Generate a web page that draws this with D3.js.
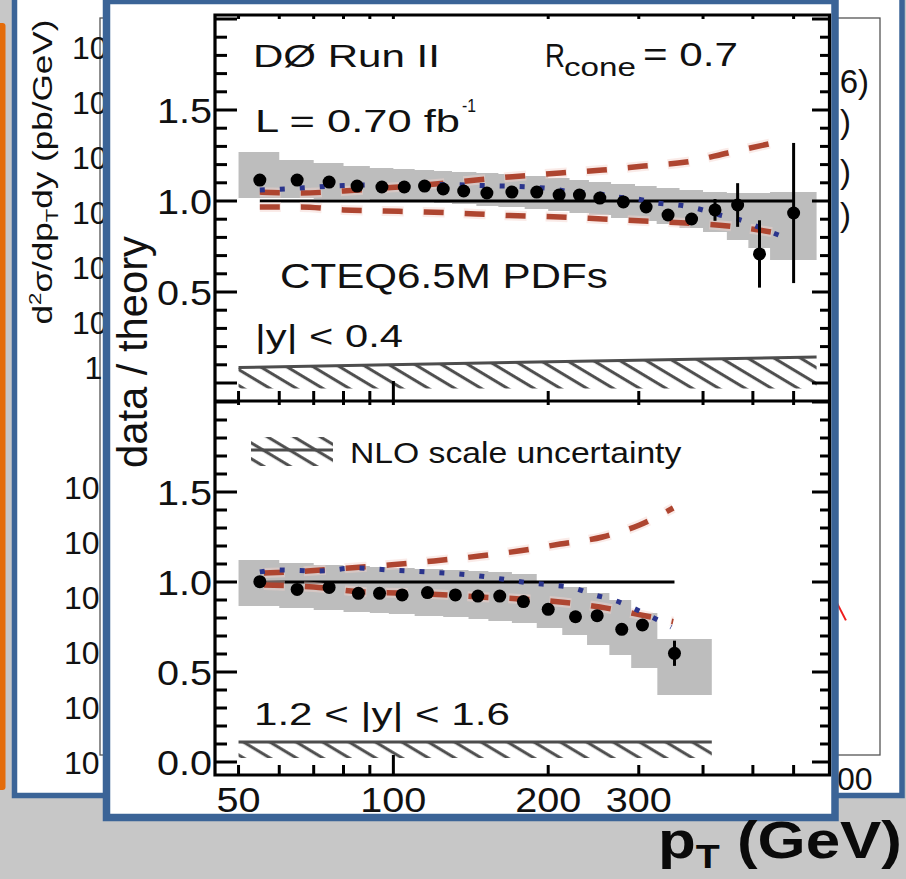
<!DOCTYPE html>
<html><head><meta charset="utf-8">
<script src="https://cdn.jsdelivr.net/npm/d3@7"></script>
<style>html,body{margin:0;padding:0;overflow:hidden;background:#c7c7c7}</style>
</head><body>
<svg id="c" width="906" height="879"></svg>
<script>
const FONT = "'Liberation Sans', Arial, Helvetica, sans-serif";

// ---------------- front chart data (data / theory) ----------------
const xTickVals = [50, 60, 70, 80, 90, 100, 200, 300, 400, 500, 600];
const xTickLabels = [50, 100, 200, 300];
const yTickLabelsUpper = ["0.5", "1.0", "1.5"];
const yTickLabelsLower = ["0.0", "0.5", "1.0", "1.5"];

// |y| < 0.4
const upPt    = [55, 65, 75, 85, 95, 105, 115, 125, 137, 152, 170, 190, 210, 230, 252, 280, 310, 342, 380, 422, 467, 515, 600];
const upRatio = [1.115, 1.115, 1.104, 1.082, 1.077, 1.077, 1.082, 1.066, 1.055, 1.044, 1.049, 1.049, 1.033, 1.033, 1.016, 0.995, 0.967, 0.923, 0.901, 0.951, 0.978, 0.709, 0.934];
const upErr   = [0.01, 0.01, 0.01, 0.01, 0.01, 0.01, 0.01, 0.01, 0.01, 0.01, 0.01, 0.01, 0.01, 0.01, 0.01, 0.015, 0.015, 0.02, 0.025, 0.06, 0.12, 0.185, 0.385];
const upBandEdges = [50, 60, 70, 80, 90, 100, 110, 120, 130, 145, 160, 180, 200, 220, 240, 265, 295, 325, 360, 400, 445, 490, 540, 665];
const upBandHi = [1.269, 1.225, 1.209, 1.192, 1.181, 1.176, 1.17, 1.165, 1.159, 1.154, 1.148, 1.137, 1.126, 1.115, 1.104, 1.093, 1.082, 1.071, 1.06, 1.049, 1.044, 1.044, 1.049];
const upBandLo = [1.016, 1.016, 1.011, 1.011, 1.005, 1.0, 0.995, 0.989, 0.984, 0.973, 0.967, 0.956, 0.945, 0.934, 0.923, 0.907, 0.89, 0.874, 0.852, 0.83, 0.786, 0.742, 0.676];
const upPdfPt = [55, 66, 80, 96, 115, 145, 168, 211, 255, 307, 371, 447, 570];
const upPdfHi = [1.049, 1.044, 1.055, 1.071, 1.088, 1.115, 1.132, 1.154, 1.17, 1.192, 1.214, 1.264, 1.33];
const upPdfLo = [0.967, 0.967, 0.951, 0.945, 0.94, 0.929, 0.92, 0.912, 0.901, 0.89, 0.879, 0.863, 0.82];
const upAltPt = [55, 65, 80, 100, 125, 150, 185, 204, 224, 246, 271, 298, 325, 358, 393, 431, 473, 512, 561];
const upAlt   = [1.06, 1.07, 1.085, 1.09, 1.09, 1.085, 1.077, 1.066, 1.049, 1.044, 1.022, 1.011, 0.989, 0.978, 0.956, 0.923, 0.896, 0.857, 0.813];
const upScalePt = [50, 665];
const upScaleTop = [0.085, 0.143];
const upScaleBase = -0.03;

// 1.2 < |y| < 1.6
const loPt    = [55, 65, 75, 85.5, 94, 104, 116.5, 132, 146, 161, 179, 200, 226, 249, 278, 305, 352];
const loRatio = [1.002, 0.959, 0.97, 0.937, 0.937, 0.928, 0.941, 0.928, 0.922, 0.922, 0.891, 0.848, 0.807, 0.813, 0.737, 0.761, 0.604];
const loErr   = [0.01, 0.01, 0.01, 0.01, 0.01, 0.01, 0.01, 0.01, 0.01, 0.01, 0.01, 0.01, 0.01, 0.01, 0.015, 0.015, 0.07];
const loBandEdges = [50, 60, 70, 80, 90, 98, 110, 125, 140, 153, 170, 190, 213, 238, 263, 290, 326, 416];
const loBandHi = [1.122, 1.106, 1.094, 1.089, 1.083, 1.078, 1.072, 1.067, 1.061, 1.056, 1.044, 1.005, 0.972, 0.939, 0.9, 0.828, 0.683];
const loBandLo = [0.867, 0.856, 0.844, 0.833, 0.828, 0.822, 0.811, 0.806, 0.794, 0.783, 0.772, 0.744, 0.706, 0.65, 0.594, 0.522, 0.372];
const loPdfHiPt = [56, 68, 82, 98, 120, 147, 175, 211, 255, 301, 350];
const loPdfHi   = [1.05, 1.061, 1.078, 1.094, 1.117, 1.144, 1.172, 1.211, 1.25, 1.317, 1.411];
const loPdfLoPt = [56, 70, 88, 105, 128, 147, 176, 211, 252, 310, 350];
const loPdfLo   = [0.983, 0.972, 0.944, 0.939, 0.928, 0.917, 0.906, 0.889, 0.861, 0.811, 0.78];
const loAltPt = [55, 60, 72, 84, 98, 116, 141, 168, 185, 204, 224, 246, 268, 292, 347];
const loAlt   = [1.056, 1.067, 1.061, 1.078, 1.067, 1.056, 1.039, 1.011, 0.994, 0.983, 0.967, 0.928, 0.9, 0.856, 0.75];
const loScalePt = [50, 416];
const loScaleTop = [0.111, 0.111];
const loScaleBase = 0.022;

// ---------------- back (covered) chart data ----------------
const backExps = [6, 5, 4, 3, 2, 1, 0, -2, -3, -4, -5, -6, -7];
const backXLabels = [1000];
const backCurveA = [[711, 3.55e-3], [1060, 2.5e-5]];
const backCurveB = [[711, 3.0e-4], [928, 1.35e-5]];
const backLegendTails = ["6)", ")", ")", ")"];

// ---------------- drawing ----------------
const svg = d3.select("#c");
const defs = svg.append("defs");
function hatch(id, off) {
  const p = defs.append("pattern").attr("id", id).attr("patternUnits", "userSpaceOnUse")
    .attr("width", 20).attr("height", 13.6).attr("patternTransform", "rotate(31)");
  p.append("rect").attr("x", 0).attr("y", off).attr("width", 20).attr("height", 3).attr("fill", "#4d4d4d");
}
hatch("hatchU", 2); hatch("hatchL", 6); hatch("hatchK", 4);

function fit(sel, target, ax) {
  const w = sel.node().getBBox().width;
  const s = target / w;
  sel.attr("transform", `translate(${ax},0) scale(${s},1) translate(${-ax},0)`);
}

// slide background
svg.append("rect").attr("width", 906).attr("height", 879).attr("fill", "#c7c7c7");
svg.append("rect").attr("x", -3).attr("y", 23).attr("width", 8.5).attr("height", 767).attr("rx", 3).attr("fill", "#e46c0a");

// back panel
svg.append("rect").attr("x", 14.5).attr("y", -10).attr("width", 887.5).attr("height", 805.5)
  .attr("fill", "#fff").attr("stroke", "#3b6497").attr("stroke-width", 5.5);
const backY = d3.scaleLog().domain([10 ** -7.05, 10 ** 6.35]).range([755, 18]);
const backX = d3.scaleLog().domain([30, 1000]).range([300, 837]);
svg.append("rect").attr("x", 100).attr("y", backY.range()[1]).attr("width", 780).attr("height", backY.range()[0] - backY.range()[1])
  .attr("fill", "none").attr("stroke", "#555").attr("stroke-width", 1.3);
backExps.forEach(n => {
  const ty = backY(10 ** n);
  if (n === 0) {
    svg.append("text").attr("x", 84.5).attr("y", ty + 11.5).attr("font-family", FONT).attr("font-size", 32).attr("fill", "#111").text("1");
  } else {
    const t = svg.append("text").attr("x", n > 0 ? 72 : 64).attr("y", ty + 21.5).attr("font-family", FONT).attr("font-size", 32).attr("fill", "#111");
    t.append("tspan").text("10");
    t.append("tspan").attr("font-size", 20).attr("dx", 8).attr("dy", -14).text(String(n));
  }
});
const bt = svg.append("g").attr("transform", "translate(52,172) rotate(-90)")
  .append("text").attr("x", 0).attr("y", 0).attr("text-anchor", "middle").attr("font-family", FONT).attr("font-size", 27).attr("fill", "#111");
bt.append("tspan").text("d");
bt.append("tspan").attr("font-size", 17).attr("dy", -11).text("2");
bt.append("tspan").attr("dy", 11).text("σ/dp");
bt.append("tspan").attr("font-size", 17).attr("dy", 6).text("T");
bt.append("tspan").attr("dy", -6).text("dy (pb/GeV)");
fit(bt, 305, 0);
const backLine = d3.line().x(d => backX(d[0])).y(d => backY(d[1]));
[backCurveA, backCurveB].forEach(c => svg.append("path").attr("d", backLine(c)).attr("fill", "none").attr("stroke", "#ee1c1c").attr("stroke-width", 2));
const legBase = [93, 133, 183, 226], legEnd = [869, 851, 851, 851];
backLegendTails.forEach((s, i) => svg.append("text").attr("x", legEnd[i]).attr("y", legBase[i]).attr("text-anchor", "end")
  .attr("font-family", FONT).attr("font-size", 33).attr("fill", "#111").text(s));
backXLabels.forEach(v => svg.append("text").attr("x", backX(v)).attr("y", 790).attr("text-anchor", "middle")
  .attr("font-family", FONT).attr("font-size", 32).attr("fill", "#111").text(v));

// front panel
svg.append("rect").attr("x", 106.5).attr("y", 0.5).attr("width", 728.5).attr("height", 817)
  .attr("fill", "#fff").attr("stroke", "#3b6497").attr("stroke-width", 7.5);

const fx = d3.scaleLog().domain([45, 703]).range([215, 829]);
const yU = d3.scaleLinear().domain([0, 1.5]).range([383, 110]);
const yL = d3.scaleLinear().domain([0, 1.5]).range([762, 492]);
const g = svg.append("g");

function panel(y, top, bottom, edges, hi, lo, scalePt, scaleTop, scaleBase, hatchId,
               pdfHiPt, pdfHi, pdfLoPt, pdfLo, altPt, alt, pts, ratio, err) {
  const bandPts = [];
  hi.forEach((h, i) => { bandPts.push({p: edges[i], h, l: lo[i]}); bandPts.push({p: edges[i + 1], h, l: lo[i]}); });
  g.append("path").attr("d", d3.area().x(d => fx(d.p)).y0(d => y(d.l)).y1(d => y(d.h))(bandPts)).attr("fill", "#bdbdbd");
  const sPts = scalePt.map((p, i) => ({p, t: scaleTop[i]}));
  g.append("path").attr("d", d3.area().x(d => fx(d.p)).y0(() => y(scaleBase)).y1(d => y(d.t))(sPts)).attr("fill", `url(#${hatchId})`);
  g.append("path").attr("d", d3.line().x(d => fx(d.p)).y(d => y(d.t))(sPts)).attr("fill", "none").attr("stroke", "#4d4d4d").attr("stroke-width", 3);
  g.append("line").attr("x1", fx(pts[0])).attr("x2", fx(pts[pts.length - 1])).attr("y1", y(1)).attr("y2", y(1)).attr("stroke", "#000").attr("stroke-width", 3);
  const ln = d3.line().x(d => fx(d[0])).y(d => y(d[1])).curve(d3.curveMonotoneX);
  [[pdfHiPt, pdfHi], [pdfLoPt, pdfLo]].forEach(([pp, vv]) => {
    const dd = pp.map((p, i) => [p, vv[i]]);
    g.append("path").attr("d", ln(dd)).attr("fill", "none").attr("stroke", "#f4d2cc").attr("stroke-opacity", 0.45).attr("stroke-width", 10).attr("stroke-dasharray", "22 19").attr("stroke-dashoffset", 1);
    g.append("path").attr("d", ln(dd)).attr("fill", "none").attr("stroke", "#ae4530").attr("stroke-width", 5.5).attr("stroke-dasharray", "20 21");
  });
  g.append("path").attr("d", ln(altPt.map((p, i) => [p, alt[i]]))).attr("fill", "none").attr("stroke", "#2a348c")
    .attr("stroke-width", 5).attr("stroke-dasharray", "5 15");
  pts.forEach((p, i) => {
    g.append("line").attr("x1", fx(p)).attr("x2", fx(p)).attr("y1", y(ratio[i] - err[i])).attr("y2", y(ratio[i] + err[i])).attr("stroke", "#000").attr("stroke-width", 3);
    g.append("circle").attr("cx", fx(p)).attr("cy", y(ratio[i])).attr("r", 6.5).attr("fill", "#000");
  });
  for (let k = 0; k <= 20; k++) {
    const v = k / 10, yy = y(v);
    if (yy < top + 1 || yy > bottom - 1) continue;
    const major = k % 5 === 0;
    g.append("line").attr("x1", 215).attr("x2", 215 + (major ? 22 : 12)).attr("y1", yy).attr("y2", yy).attr("stroke", "#000").attr("stroke-width", 3);
    g.append("line").attr("x1", 829).attr("x2", 829 - (major ? 17 : 9)).attr("y1", yy).attr("y2", yy).attr("stroke", "#000").attr("stroke-width", 3);
  }
  xTickVals.forEach(p => {
    const major = p === 100;
    g.append("line").attr("x1", fx(p)).attr("x2", fx(p)).attr("y1", bottom).attr("y2", bottom - (major ? 20 : 10)).attr("stroke", "#000").attr("stroke-width", 3);
    g.append("line").attr("x1", fx(p)).attr("x2", fx(p)).attr("y1", top).attr("y2", top + 4).attr("stroke", "#000").attr("stroke-width", 3);
  });
}

panel(yU, 15, 401, upBandEdges, upBandHi, upBandLo, upScalePt, upScaleTop, upScaleBase, "hatchU",
      upPdfPt, upPdfHi, upPdfPt, upPdfLo, upAltPt, upAlt, upPt, upRatio, upErr);
panel(yL, 401, 775, loBandEdges, loBandHi, loBandLo, loScalePt, loScaleTop, loScaleBase, "hatchL",
      loPdfHiPt, loPdfHi, loPdfLoPt, loPdfLo, loAltPt, loAlt, loPt, loRatio, loErr);

g.append("path").attr("d", "M215,15H829.5V775H215Z M215,401H829.5").attr("fill", "none").attr("stroke", "#000").attr("stroke-width", 3.2);

function tl(x, yy, s, anchor) {
  const t = g.append("text").attr("x", x).attr("y", yy).attr("text-anchor", anchor).attr("font-family", FONT).attr("font-size", 36).attr("fill", "#111").text(s);
  const w = t.node().getBBox().width;
  fit(t, w * 1.1, x);
}
yTickLabelsUpper.forEach(s => tl(212, yU(+s) + 13, s, "end"));
yTickLabelsLower.forEach(s => tl(212, yL(+s) + 13, s, "end"));
xTickLabels.forEach(p => tl(fx(p), 812, String(p), "middle"));

function txt(x, yy, s, size, width, anchor) {
  const t = g.append("text").attr("x", x).attr("y", yy).attr("font-family", FONT).attr("font-size", size).attr("fill", "#111")
    .attr("text-anchor", anchor || "start").text(s);
  if (width) fit(t, width, x);
  return t;
}
txt(253, 67, "DØ Run II", 32, 187);
txt(545, 67, "R", 33, 20);
txt(564, 76, "cone", 25, 72);
txt(643, 66, "= 0.7", 33, 95);
txt(255, 132, "L = 0.70 fb", 31, 205);
txt(462, 112, "-1", 19, 14);
txt(280, 288, "CTEQ6.5M PDFs", 36, 328);
txt(255, 347, "|y| < 0.4", 31, 148);
txt(350, 463, "NLO scale uncertainty", 29, 332);
txt(254, 725, "1.2 < |y| < 1.6", 32, 256);
g.append("rect").attr("x", 251).attr("y", 437).attr("width", 82).attr("height", 29).attr("fill", "url(#hatchK)");
g.append("line").attr("x1", 251).attr("x2", 333).attr("y1", 450).attr("y2", 450).attr("stroke", "#4d4d4d").attr("stroke-width", 3);

const yt = g.append("g").attr("transform", "translate(147,352) rotate(-90)")
  .append("text").attr("text-anchor", "middle").attr("font-family", FONT).attr("font-size", 42).attr("fill", "#111").text("data / theory");
fit(yt, 232, 0);

const pt = svg.append("text").attr("x", 658).attr("y", 858).attr("font-family", FONT).attr("font-weight", "bold").attr("font-size", 52).attr("fill", "#0a0a0a");
pt.append("tspan").text("p");
pt.append("tspan").attr("font-size", 33).attr("dy", 10).text("T");
pt.append("tspan").attr("dy", -10).text(" (GeV)");
fit(pt, 244, 658);
</script>
</body></html>
